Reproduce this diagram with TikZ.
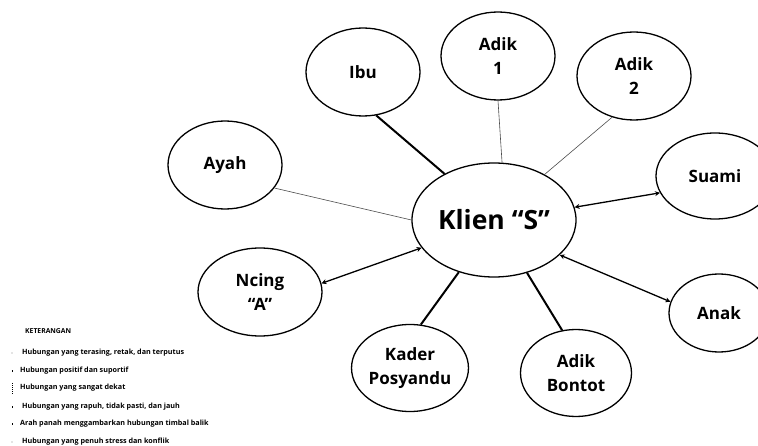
\documentclass[tikz,border=0pt]{standalone}
\usepackage{fontspec}
\setmainfont{Open Sans}
\usetikzlibrary{shapes.geometric,arrows.meta}
\begin{document}
\begin{tikzpicture}[x=1pt,y=-1pt,
  person/.style={ellipse,draw=black,line width=1.3pt,fill=white,inner sep=0pt,
    minimum width=114pt,minimum height=88pt,align=center,
    font=\fontsize{17}{24}\selectfont\bfseries},
  thickline/.style={line width=2pt,black},
  thinline/.style={line width=0.6pt,black!70},
  twoway/.style={line width=1.3pt,black,{Stealth[length=5pt,width=5pt]}-{Stealth[length=5pt,width=5pt]}},
  legtext/.style={anchor=west,inner sep=0pt,font=\fontsize{7.2}{8}\selectfont\bfseries},
  legmark/.style={line width=0.9pt}
]
\path[use as bounding box,clip] (0,0) rectangle (758,446);

\node[person,minimum width=164pt,minimum height=114pt,font=\fontsize{26.5}{32}\selectfont\bfseries] (klien) at (494,220) {Klien “S”};
\node[person] (ibu) at (363,72) {Ibu};
\node[person] (adik1) at (498,56) {Adik\\1};
\node[person] (adik2) at (634,76) {Adik\\2};
\node[person] (ayah) at (225,165) {Ayah};
\node[person,minimum width=118pt,minimum height=86pt] (suami) at (715,176) {Suami};
\node[person,minimum width=100pt,minimum height=78pt] (anak) at (719,313) {Anak};
\node[person,minimum width=124pt,minimum height=88pt] (ncing) at (260,292) {Ncing\\“A”};
\node[person,minimum width=113pt,minimum height=87pt] (kader) at (410,368) {Kader\\Posyandu};
\node[person,minimum width=111pt,minimum height=87pt] (bontot) at (576,373) {Adik\\Bontot};

\draw[thickline] (ibu.-73) -- (klien.137);
\draw[thinline] (adik1.-90) -- (klien.82);
\draw[thinline] (adik2.-118) -- (klien.42);
\draw[thinline] (ayah.-25) -- (klien.180);
\draw[twoway] (klien.9) -- (suami.-163);
\draw[twoway] (klien.-28) -- (anak.167);
\draw[twoway] (ncing.8) -- (klien.-159);
\draw[thickline] (kader.76) -- (klien.-124);
\draw[thickline] (bontot.108) -- (klien.-58);

% legend
\node[legtext,font=\fontsize{6.8}{8}\selectfont\bfseries] (ket) at (25,331) {KETERANGAN};
\node[legtext] (l1) at (22,353) {Hubungan yang terasing, retak, dan terputus};
\node[legtext] (l2) at (20,371) {Hubungan positif dan suportif};
\node[legtext] (l3) at (20,388) {Hubungan yang sangat dekat};
\node[legtext] (l4) at (22,407) {Hubungan yang rapuh, tidak pasti, dan jauh};
\node[legtext] (l5) at (20,424) {Arah panah menggambarkan hubungan timbal balik};
\node[legtext] (l6) at (22,442) {Hubungan yang penuh stress dan konflik};

\coordinate (m1) at (12,353);
\coordinate (m2) at (12,371);
\coordinate (m4) at (12,407);
\coordinate (m5) at (12,424);
\coordinate (m6) at (12,442);
\fill[black!45] (m1) circle (0.6pt);
\draw[legmark] ([yshift=-1.2pt]m2) -- ([yshift=1.2pt]m2);
\draw[line width=0.8pt,dash pattern=on 1pt off 1pt] (12,383) -- (12,394);
\draw[legmark] ([yshift=-1.2pt]m4) -- ([yshift=1.2pt]m4);
\draw[legmark] ([yshift=-1.2pt]m5) -- ([yshift=1.2pt]m5);
\fill[black!45] (m6) circle (0.6pt);
\end{tikzpicture}
\end{document}
